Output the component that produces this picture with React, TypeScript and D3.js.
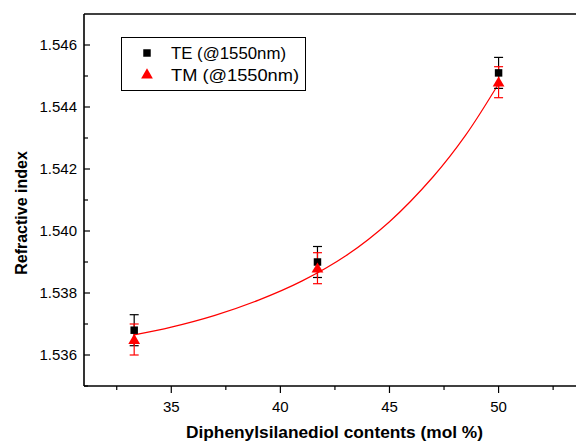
import { useEffect, useRef } from "react";
import * as d3 from "d3";

// measured points (mol %, refractive index, error)
const contents = [33.3, 41.7, 50];
const teIndex = [1.5368, 1.539, 1.5451];
const teErr = [0.0005, 0.0005, 0.0005];
const tmIndex = [1.5365, 1.5388, 1.5448];
const tmErr = [0.0005, 0.0005, 0.0005];

// fitted curve
const fitX = [33.3, 35, 37, 39, 41, 43, 45, 47, 48.5, 50];
const fitY = [1.53665, 1.5369, 1.53728, 1.53777, 1.53839, 1.5392, 1.5403, 1.54175, 1.5431, 1.54475];

const xTicks = [35, 40, 45, 50];
const yTicks = [1.536, 1.538, 1.54, 1.542, 1.544, 1.546];

const legendLabels = ["TE (@1550nm)", "TM (@1550nm)"];
const legendWidths = [115, 128];

const FONT = "'Liberation Sans', Arial, sans-serif";

export default function App() {
  const svgRef = useRef<SVGSVGElement>(null);

  useEffect(() => {
    const svg = d3.select(svgRef.current);
    svg.selectAll("*").remove();

    const left = 84, top = 14, bottom = 386;
    const x = d3.scaleLinear().domain([31, 55]).range([left, left + 24 * 21.82]);
    const y = d3.scaleLinear().domain([1.535, 1.547]).range([bottom, top]);

    const g = svg.append("g");

    // frame lines (left, top, bottom)
    g.append("line").attr("x1", left).attr("x2", left).attr("y1", top).attr("y2", bottom)
      .attr("stroke", "#000").attr("stroke-width", 1.6);
    g.append("line").attr("x1", left).attr("x2", 620).attr("y1", top).attr("y2", top)
      .attr("stroke", "#000").attr("stroke-width", 1.6);
    g.append("line").attr("x1", left).attr("x2", 620).attr("y1", bottom).attr("y2", bottom)
      .attr("stroke", "#000").attr("stroke-width", 1.6);

    // x ticks, outward
    const xMinor = d3.range(32.5, 55, 5);
    g.selectAll(".xmaj").data(xTicks).join("line")
      .attr("x1", (d) => x(d)).attr("x2", (d) => x(d))
      .attr("y1", bottom).attr("y2", bottom + 7)
      .attr("stroke", "#000").attr("stroke-width", 1.2);
    g.selectAll(".xmin").data(xMinor).join("line")
      .attr("x1", (d) => x(d)).attr("x2", (d) => x(d))
      .attr("y1", bottom).attr("y2", bottom + 4)
      .attr("stroke", "#000").attr("stroke-width", 1.2);
    g.selectAll(".xlab").data(xTicks).join("text")
      .attr("x", (d) => x(d)).attr("y", 412)
      .attr("text-anchor", "middle")
      .attr("font-family", FONT).attr("font-size", 15)
      .text((d) => d);

    // y ticks, inward
    const yMinor = [1.535, 1.537, 1.539, 1.541, 1.543, 1.545];
    g.selectAll(".ymaj").data(yTicks).join("line")
      .attr("x1", left).attr("x2", left + 6)
      .attr("y1", (d) => y(d)).attr("y2", (d) => y(d))
      .attr("stroke", "#000").attr("stroke-width", 1.2);
    g.selectAll(".ymin").data(yMinor).join("line")
      .attr("x1", left).attr("x2", left + 4)
      .attr("y1", (d) => y(d)).attr("y2", (d) => y(d))
      .attr("stroke", "#000").attr("stroke-width", 1.2);
    g.selectAll(".ylab").data(yTicks).join("text")
      .attr("x", 77).attr("y", (d) => y(d) + 5)
      .attr("text-anchor", "end")
      .attr("font-family", FONT).attr("font-size", 15)
      .text((d) => d3.format(".3f")(d));

    // axis titles
    g.append("text")
      .attr("x", 186).attr("y", 438)
      .attr("textLength", 297).attr("lengthAdjust", "spacingAndGlyphs")
      .attr("font-family", FONT).attr("font-size", 16).attr("font-weight", "bold")
      .text("Diphenylsilanediol contents (mol %)");
    g.append("text")
      .attr("transform", `translate(27, 213) rotate(-90)`)
      .attr("text-anchor", "middle")
      .attr("font-family", FONT).attr("font-size", 16).attr("font-weight", "bold")
      .text("Refractive index");

    // fit curve
    const fit = fitX.map((v, i) => [v, fitY[i]] as [number, number]);
    g.append("path")
      .attr("d", d3.line().x((d) => x(d[0])).y((d) => y(d[1])).curve(d3.curveCatmullRom)(fit))
      .attr("fill", "none").attr("stroke", "#ff0000").attr("stroke-width", 1.2);

    // error bars
    const errBars = (vals: number[], errs: number[], color: string) => {
      contents.forEach((c, i) => {
        const cx = x(c);
        const y1 = y(vals[i] + errs[i]);
        const y2 = y(vals[i] - errs[i]);
        g.append("line").attr("x1", cx).attr("x2", cx).attr("y1", y1).attr("y2", y2)
          .attr("stroke", color).attr("stroke-width", 1.2);
        [y1, y2].forEach((yy) =>
          g.append("line").attr("x1", cx - 4.5).attr("x2", cx + 4.5).attr("y1", yy).attr("y2", yy)
            .attr("stroke", color).attr("stroke-width", 1.2)
        );
      });
    };
    errBars(teIndex, teErr, "#000");
    errBars(tmIndex, tmErr, "#ff0000");

    const sq = d3.symbol(d3.symbolSquare, 56);
    const tri = d3.symbol(d3.symbolTriangle, 60);

    g.selectAll(".te").data(contents).join("path")
      .attr("d", sq())
      .attr("transform", (d, i) => `translate(${x(d)},${y(teIndex[i])})`)
      .attr("fill", "#000");
    g.selectAll(".tm").data(contents).join("path")
      .attr("d", tri())
      .attr("transform", (d, i) => `translate(${x(d)},${y(tmIndex[i]) + 1})`)
      .attr("fill", "#ff0000");

    // legend
    const lg = g.append("g");
    lg.append("rect").attr("x", 121.5).attr("y", 37.5).attr("width", 184).attr("height", 53)
      .attr("fill", "#fff").attr("stroke", "#000").attr("stroke-width", 1);
    lg.append("path").attr("d", sq()).attr("transform", "translate(147,53)").attr("fill", "#000");
    lg.append("path").attr("d", tri()).attr("transform", "translate(147,75)").attr("fill", "#ff0000");
    legendLabels.forEach((t, i) => {
      lg.append("text")
        .attr("x", 171).attr("y", 59 + i * 21.5)
        .attr("textLength", legendWidths[i]).attr("lengthAdjust", "spacingAndGlyphs")
        .attr("font-family", FONT).attr("font-size", 16)
        .text(t);
    });
  }, []);

  return (
    <svg
      ref={svgRef}
      width={576}
      height={443}
      style={{ position: "absolute", left: 0, top: 0, background: "#fff" }}
    />
  );
}
